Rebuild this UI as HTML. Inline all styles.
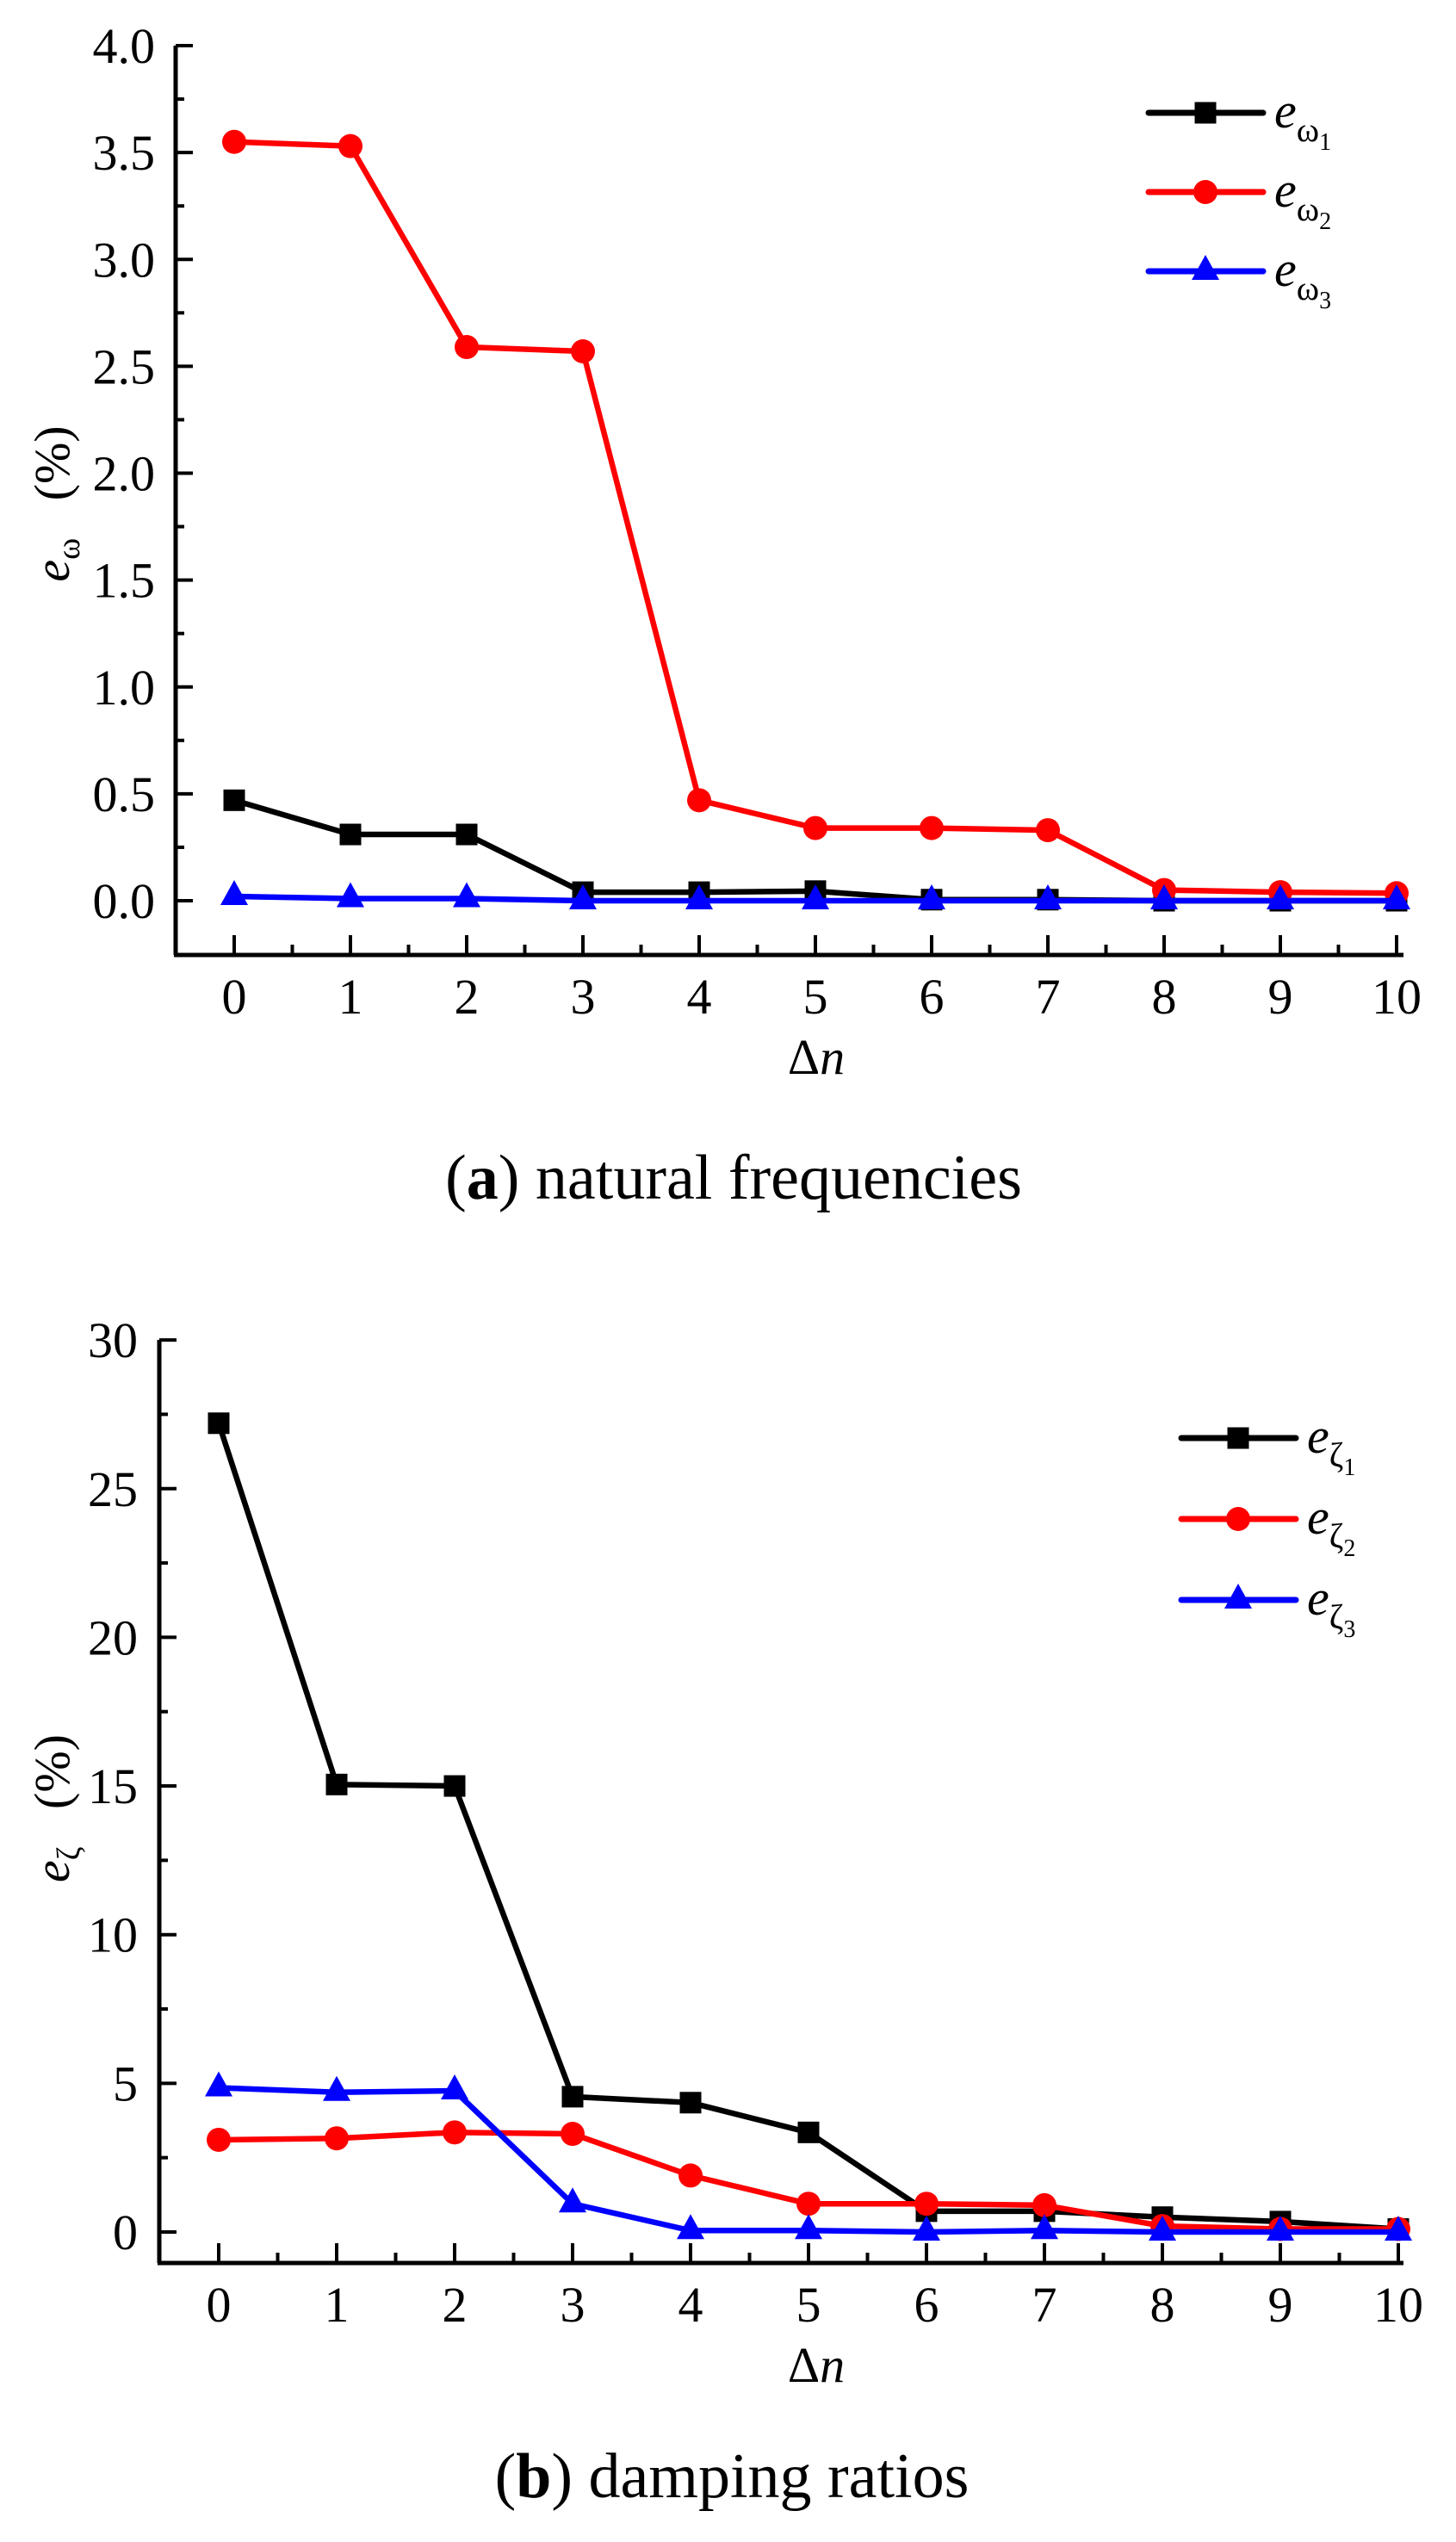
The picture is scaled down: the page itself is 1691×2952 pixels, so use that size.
<!DOCTYPE html>
<html><head><meta charset="utf-8"><style>
html,body{margin:0;padding:0;background:#fff;}
svg{display:block;}
text{font-family:"Liberation Serif","DejaVu Serif",serif;}
</style></head><body>
<svg id="s" width="1691" height="2952" viewBox="0 0 1691 2952" xmlns="http://www.w3.org/2000/svg">
<rect width="1691" height="2952" fill="#fff"/>
<g id="g"></g>
<text x="852" y="1392" font-size="74" text-anchor="middle">(<tspan font-weight="bold">a</tspan>) natural frequencies</text>
<text x="850" y="2900" font-size="74" text-anchor="middle">(<tspan font-weight="bold">b</tspan>) damping ratios</text>
</svg>
<script>
const NS="http://www.w3.org/2000/svg";
const g=document.getElementById('g');
function el(t,a,txt){const e=document.createElementNS(NS,t);for(const k in a)e.setAttribute(k,a[k]);if(txt!==undefined)e.textContent=txt;g.appendChild(e);return e;}
function chart(c){
  const X=i=>c.x0+i*c.dx, Y=v=>c.y0-(v-c.vmin)*c.py;
  el('line',{x1:c.ax,y1:c.ytop,x2:c.ax,y2:c.ab,stroke:'#000','stroke-width':5});
  el('line',{x1:c.ax-2,y1:c.ab,x2:1630,y2:c.ab,stroke:'#000','stroke-width':5});
  for(let k=0;k<=c.nmaj;k++){const v=c.vmin+k*c.step,y=Y(v);
    el('line',{x1:c.ax,y1:y,x2:c.ax+20,y2:y,stroke:'#000','stroke-width':4});
    el('text',{x:c.lx,y:y+20,'font-size':58,'text-anchor':'end'},c.fmt(v));
    if(k<c.nmaj){const ym=Y(v+c.step/2);el('line',{x1:c.ax,y1:ym,x2:c.ax+10,y2:ym,stroke:'#000','stroke-width':4});}
  }
  for(let i=0;i<=10;i++){const x=X(i);
    el('line',{x1:x,y1:c.ab,x2:x,y2:c.ab-23,stroke:'#000','stroke-width':4});
    if(i<10){const xm=X(i+0.5);el('line',{x1:xm,y1:c.ab,x2:xm,y2:c.ab-12,stroke:'#000','stroke-width':4});}
    el('text',{x:x,y:c.ab+68,'font-size':58,'text-anchor':'middle'},String(i));
  }
  el('text',{x:948,y:c.ab+138,'font-size':58,'text-anchor':'middle'},'').innerHTML='Δ<tspan font-style="italic">n</tspan>';
  const t=el('text',{x:0,y:0,'font-size':58,transform:`translate(80,${c.ylc}) rotate(-90)`,'text-anchor':'middle'},'');
  t.innerHTML=`<tspan font-style="italic">e</tspan><tspan font-size="38" dy="12">${c.sym}</tspan><tspan dy="-12" xml:space="preserve">   (%)</tspan>`;
  const cols=['#000','#ff0000','#0000ff'];
  c.data.forEach((d,s)=>{
    el('polyline',{points:d.map((v,i)=>X(i)+','+Y(v)).join(' '),fill:'none',stroke:cols[s],'stroke-width':6.5,'stroke-linejoin':'round'});
    d.forEach((v,i)=>marker(s,X(i),Y(v),cols[s]));
    const ly=c.leg[s];
    el('line',{x1:c.lg0,y1:ly,x2:c.lg0+133,y2:ly,stroke:cols[s],'stroke-width':7,'stroke-linecap':'round'});
    marker(s,c.lg0+66,ly,cols[s]);
    const lt=el('text',{x:c.lg0+146,y:ly+17,'font-size':58},'');
    lt.innerHTML=`<tspan font-style="italic">e</tspan><tspan font-size="40" dy="16">${c.sym}</tspan><tspan font-size="28" dy="10">${s+1}</tspan>`;
  });
}
function marker(s,x,y,col){
  if(s===0)el('rect',{x:x-12.5,y:y-12.5,width:25,height:25,fill:col});
  else if(s===1)el('circle',{cx:x,cy:y,r:14,fill:col});
  else el('polygon',{points:`${x},${y-19} ${x-16},${y+10} ${x+16},${y+10}`,fill:col});
}
chart({x0:272,dx:135,y0:1046,vmin:0,py:248.25,ax:204,ytop:53,ab:1109,nmaj:8,step:0.5,fmt:v=>v.toFixed(1),lx:180,ylc:585,sym:'ω',
 lg0:1334,leg:[131,223,315],
 data:[[0.47,0.31,0.31,0.04,0.04,0.045,0.005,0.005,0,0,0],
       [3.55,3.53,2.59,2.57,0.47,0.34,0.34,0.33,0.05,0.04,0.035],
       [0.02,0.01,0.01,0,0,0,0,0,0,0,0]]});
chart({x0:254,dx:137,y0:2592,vmin:0,py:34.53,ax:185,ytop:1556,ab:2628,nmaj:6,step:5,fmt:v=>String(v),lx:160,ylc:2100,sym:'ζ',
 lg0:1372,leg:[1670,1764,1858],
 data:[[27.2,15.05,15.0,4.55,4.35,3.35,0.7,0.7,0.5,0.35,0.1],
       [3.1,3.15,3.35,3.3,1.9,0.95,0.95,0.9,0.2,0.1,0.1],
       [4.85,4.7,4.75,0.95,0.05,0.05,0.0,0.05,0,0,0]]});
</script>
</body></html>
